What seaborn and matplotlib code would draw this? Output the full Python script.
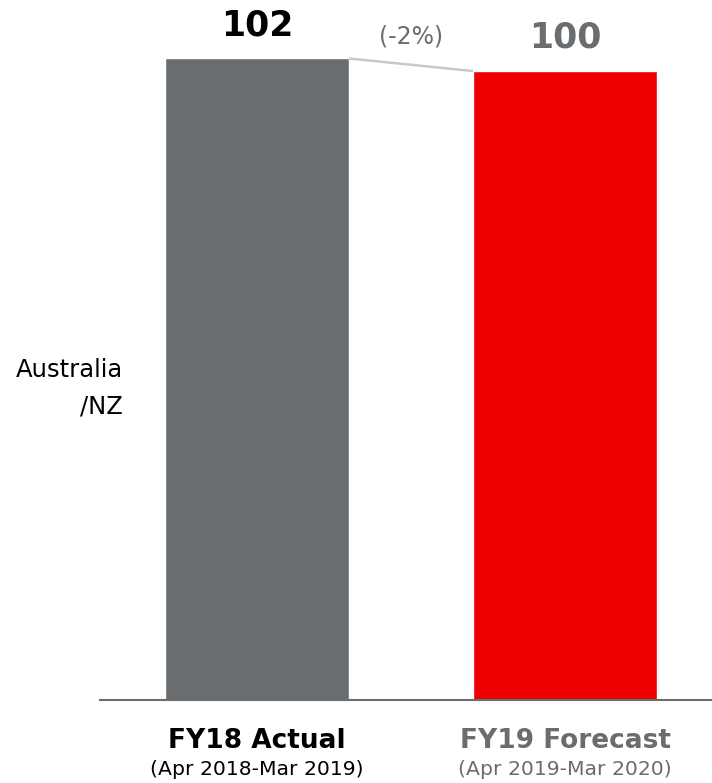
import matplotlib
matplotlib.use("Agg")
import matplotlib.pyplot as plt
import seaborn as sns
import pandas as pd

categories = ["FY18 Actual", "FY19 Forecast"]
periods = ["(Apr 2018-Mar 2019)", "(Apr 2019-Mar 2020)"]
values = [102, 100]
change_label = "(-2%)"
row_label_lines = ["Australia", "/NZ"]

bar_colors = ["#6a6d70", "#ee0000"]
label_colors = ["#000000", "#6a6d70"]

sns.set_theme(style="white")
plt.rcParams['font.family'] = ['DejaVu Sans']

df = pd.DataFrame({"cat": categories, "val": values})

fig = plt.figure(figsize=(7.12, 7.83), dpi=100)
ax = fig.add_axes([100/712, 83/783, 612/712, 700/783])
sns.barplot(data=df, x="cat", y="val", hue="cat", palette=bar_colors,
            width=0.597, saturation=1, legend=False, ax=ax)
ax.set_xlim(-0.51, 1.477)
ax.set_ylim(0, 111.3)
for s in ["top", "right", "left"]:
    ax.spines[s].set_visible(False)
ax.spines["bottom"].set_color("#6a6d70")
ax.spines["bottom"].set_linewidth(1.5)
ax.set_yticks([])
ax.set_xticks([])
ax.set_xlabel("")
ax.set_ylabel("")

# value labels
ax.text(0, 105.7, str(values[0]), ha="center", va="baseline",
        fontsize=25, fontweight="bold", color=label_colors[0])
ax.text(1, 103.8, str(values[1]), ha="center", va="baseline",
        fontsize=25, fontweight="bold", color=label_colors[1])

# connector
hw = 0.597 / 2
ax.plot([0 + hw, 1 - hw], [values[0], values[1]], color="#c8c8c8", lw=1.8,
        solid_capstyle="butt")
ax.text(0.5, 105.5, change_label, ha="center", va="center", fontsize=17,
        color="#6a6d70")

# category labels
for i, (c, p) in enumerate(zip(categories, periods)):
    ax.text(i, -7.63, c, ha="center", va="baseline", fontsize=19, fontweight="bold",
            color=label_colors[i], clip_on=False)
    ax.text(i, -12.0, p, ha="center", va="baseline", fontsize=14.7,
            color=label_colors[i], clip_on=False)

fig.text(123/712, 1 - 377/783, row_label_lines[0], ha="right", va="baseline",
         fontsize=17.5, color="#000000")
fig.text(123/712, 1 - 413/783, row_label_lines[1], ha="right", va="baseline",
         fontsize=17.5, color="#000000")

fig.savefig("out.png", dpi=100)
